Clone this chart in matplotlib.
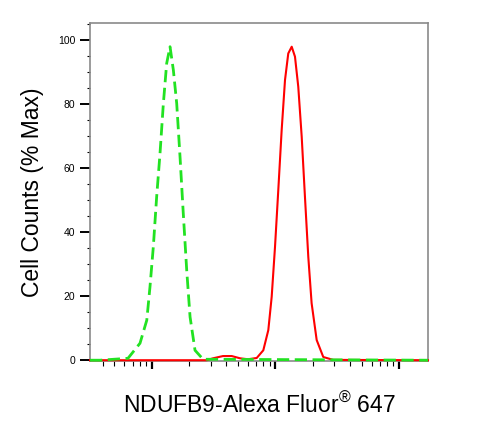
import matplotlib
matplotlib.use("Agg")
import matplotlib.pyplot as plt
from matplotlib.ticker import LogLocator, NullFormatter

plt.rcParams['font.family'] = ['Liberation Sans', 'DejaVu Sans']
plt.rcParams['mathtext.fontset'] = 'custom'
plt.rcParams['mathtext.rm'] = 'Liberation Sans'
plt.rcParams['mathtext.it'] = 'Liberation Sans'

# Isotype control (green dashed)
control_x = [317, 382, 643, 804, 912, 968, 1030, 1096, 1167, 1242, 1321, 1406,
             1496, 1592, 1694, 1799, 1919, 2042, 2239, 2600, 171400]
control_y = [0, 0, 0.6, 5.3, 12.5, 22.9, 35.4, 51.0, 64.6, 80.2, 92.7, 97.9,
             90.6, 80.2, 63.5, 45.9, 28.0, 13.5, 3.1, 0.3, 0]

# NDUFB9 stained sample (red solid)
sample_x = [317, 2786, 3133, 3770, 4436, 5176, 6002, 7063, 7985, 8765, 9333, 9929,
            10550, 11240, 11960, 12710, 13550, 14400, 15310, 16320, 17340, 18450,
            19630, 21570, 24390, 29380, 171400]
sample_y = [0, 0, 0.6, 1.3, 1.3, 0.6, 0.3, 0.7, 3.1, 9.4, 19.8, 35.4,
            53.0, 71.9, 87.5, 95.8, 97.9, 94.8, 85.4, 69.8, 51.0, 32.3,
            17.8, 6.3, 1.0, 0.1, 0]

y_ticks = [0, 20, 40, 60, 80, 100]
x_label = r'NDUFB9-Alexa Fluor$^{\mathrm{®}}$ 647'
y_label = 'Cell Counts (% Max)'

fig = plt.figure(figsize=(4.96, 4.23), dpi=100)
ax = fig.add_axes([0.1815, 0.1454, 0.8629 - 0.1815, 0.9456 - 0.1454])

ax.plot(sample_x, sample_y, color='#ff0000', lw=1.5, zorder=3, clip_on=False,
        solid_joinstyle='round')
ax.plot(control_x, control_y, color='#22e222', lw=2.0, dashes=(4.4, 2.0), zorder=4,
        clip_on=False)

ax.set_xscale('log')
ax.set_xlim(317, 171400)
ax.set_ylim(-0.4, 105.3)

ax.xaxis.set_major_locator(LogLocator(base=10, numticks=10))
ax.xaxis.set_minor_locator(LogLocator(base=10, subs=range(2, 10), numticks=20))
ax.xaxis.set_major_formatter(NullFormatter())
ax.xaxis.set_minor_formatter(NullFormatter())

ax.set_yticks(y_ticks)
ax.set_yticks(range(0, 106, 5), minor=True)

ax.tick_params(axis='y', which='major', length=7.2, width=1.4, labelsize=7.5, pad=3.5,
               color='black')
ax.tick_params(axis='y', which='minor', length=2.5, width=0.8, color='black')
ax.tick_params(axis='x', which='major', length=6.0, width=1.6, color='black')
ax.tick_params(axis='x', which='minor', length=3.6, width=0.8, color='black')
ax.tick_params(top=False, right=False)

for sp in ax.spines.values():
    sp.set_color('#8a8a8a')
    sp.set_linewidth(1.2)

ax.set_xlabel(x_label, fontsize=16.5, labelpad=13)
ax.set_ylabel(y_label, fontsize=16.5, labelpad=10)

fig.savefig('out.png', dpi=100)
